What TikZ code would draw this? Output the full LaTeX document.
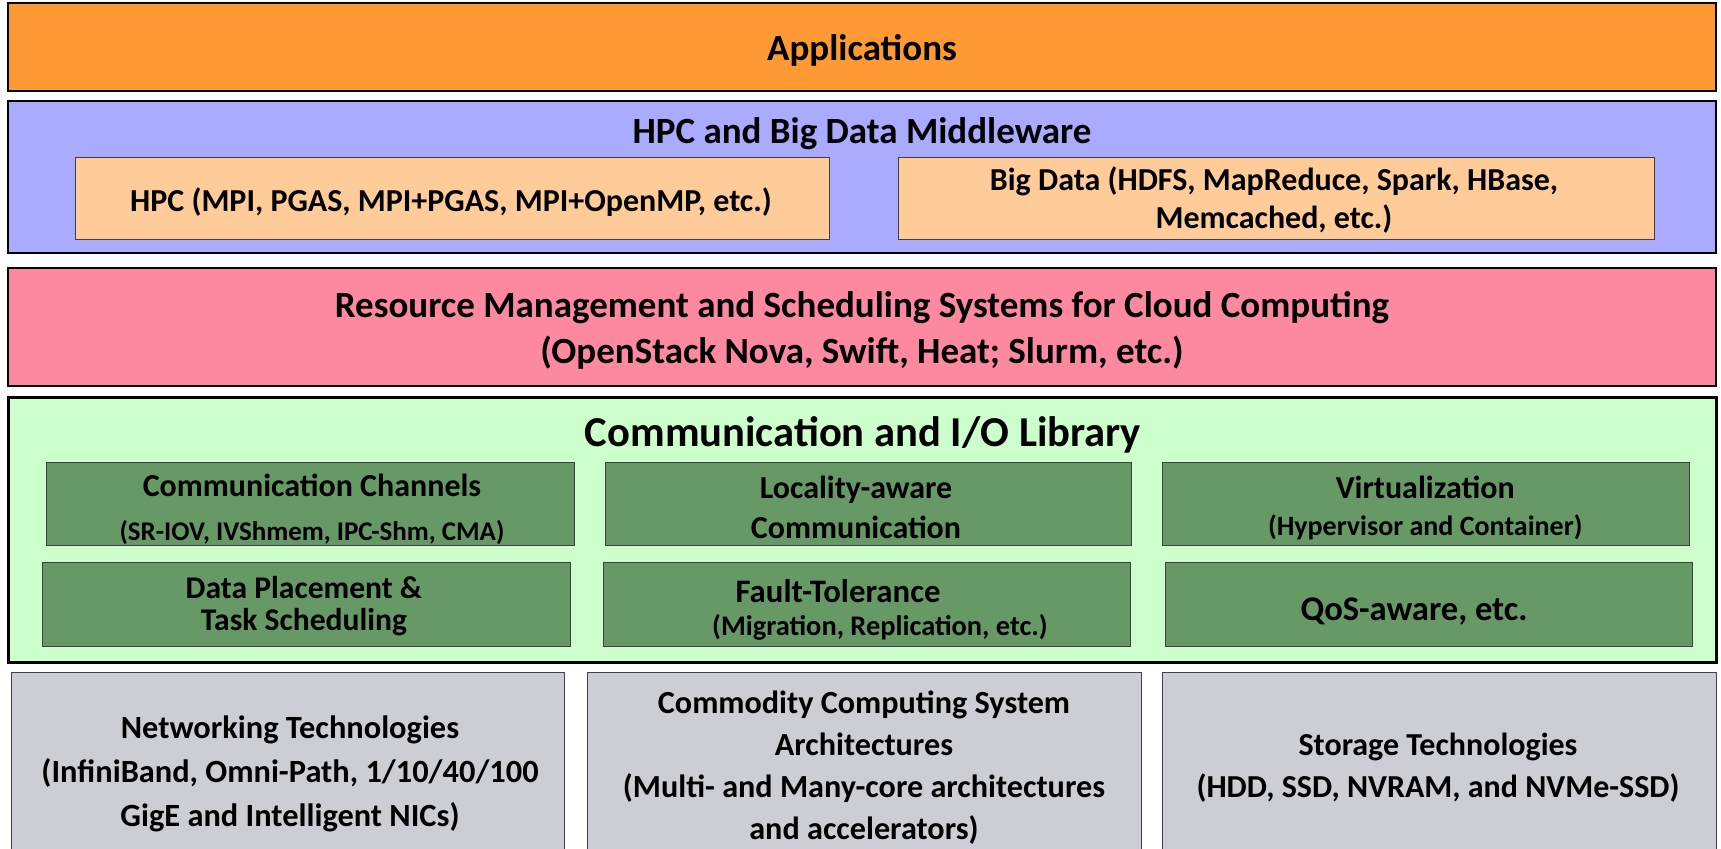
\documentclass[tikz,border=0pt]{standalone}
\usepackage{fontspec}
\setmainfont{Carlito}
\newcommand{\fsz}[2]{\bfseries\fontsize{#1}{#2}\selectfont}
\tikzset{
  layerbox/.style={draw=black,line width=1pt},
  subbox/.style={draw=black!75,line width=0.5pt},
  label/.style={inner sep=0pt,outer sep=0pt,align=center,anchor=center}
}
\begin{document}
\begin{tikzpicture}[x=1pt,y=1pt]
\definecolor{appColor}{RGB}{255,153,51}
\definecolor{midColor}{RGB}{170,170,255}
\definecolor{hpcColor}{RGB}{255,204,153}
\definecolor{resColor}{RGB}{253,137,160}
\definecolor{commColor}{RGB}{204,255,204}
\definecolor{libColor}{RGB}{102,153,102}
\definecolor{techColor}{RGB}{205,205,213}
\path[use as bounding box,fill=white] (0,0) rectangle (860.5,424.5);
\begin{scope}
\path[clip] (0,0) rectangle (860.5,424.5);

\path[layerbox,fill=appColor] (4,379) rectangle (858,423);
\path[layerbox,fill=midColor] (4,298) rectangle (858,374);
\path[subbox,fill=hpcColor] (37.5,304.5) rectangle (414.5,345.5);
\path[subbox,fill=hpcColor] (449,304.5) rectangle (827,345.5);
\path[layerbox,fill=resColor] (4,231.5) rectangle (858,290.5);
\path[layerbox,line width=1.5pt,fill=commColor] (4,93) rectangle (858,225.5);

\path[subbox,fill=libColor] ( 23.0,151.5) rectangle (287.0,193.0);
\path[subbox,fill=libColor] (302.5,151.5) rectangle (565.5,193.0);
\path[subbox,fill=libColor] (581.0,151.5) rectangle (844.5,193.0);
\path[subbox,fill=libColor] ( 21.0,101.0) rectangle (285.0,143.0);
\path[subbox,fill=libColor] (301.5,101.0) rectangle (565.0,143.0);
\path[subbox,fill=libColor] (582.5,101.0) rectangle (846.0,143.0);

\path[subbox,fill=techColor] (  5.5,-12) rectangle (282.0,88);
\path[subbox,fill=techColor] (293.5,-12) rectangle (570.5,88);
\path[subbox,fill=techColor] (581.0,-12) rectangle (858.0,88);
\end{scope}
\begin{scope}
\path[clip] (0,0) rectangle (860.5,424.5);

\node[label,font=\fsz{18.5}{23}] (apps) at (431,399.5) {Applications};
\node[label,font=\fsz{18.5}{23}] (middleware) at (431,357.5) {HPC and Big Data Middleware};
\node[label,font=\fsz{16}{18.7}] (hpc) at (225.5,323.5) {HPC (MPI, PGAS, MPI+PGAS, MPI+OpenMP, etc.)};
\node[label,font=\fsz{16}{18.7}] (bigData) at (637,324.5) {Big Data (HDFS, MapReduce, Spark, HBase,\\Memcached, etc.)};
\node[label,font=\fsz{18.5}{23}] (resource) at (431,259.3) {Resource Management and Scheduling Systems for Cloud Computing\\(OpenStack Nova, Swift, Heat; Slurm, etc.)};
\node[label,font=\fsz{21.3}{25}] (comm) at (431.5,207.2) {Communication and I/O Library};

\node[label,font=\fsz{16}{22}] (channels) at (156,169.9) {Communication Channels\\{\fsz{13.5}{22}(SR-IOV, IVShmem, IPC-Shm, CMA)}};
\node[label,font=\fsz{16}{20.3}] (locality) at (428,170.7) {Locality-aware\\Communication};
\node[label,font=\fsz{16}{18.7}] (virt) at (712.6,170.4) {Virtualization\\{\fsz{14}{18.7}(Hypervisor and Container)}};
\node[label,font=\fsz{15.8}{16}] (placement) at (152,121.3) {Data Placement \&\\Task Scheduling};
\node[label,font=\fsz{16.4}{16.5}] (fault) at (440,119.4) {Fault-Tolerance\hspace*{42pt}\\{\fsz{14.2}{16.5}(Migration, Replication, etc.)}};
\node[label,font=\fsz{17.3}{20}] (qos) at (707,118.8) {QoS-aware, etc.};

\node[label,font=\fsz{16.2}{22}] (network) at (145,37.6) {Networking Technologies\\(InfiniBand, Omni-Path, 1/10/40/100\\GigE and Intelligent NICs)};
\node[label,font=\fsz{16.1}{21}] (arch) at (432,40.5) {Commodity Computing System\\Architectures\\(Multi- and Many-core architectures\\and accelerators)};
\node[label,font=\fsz{16}{21.4}] (storage) at (719,40.6) {Storage Technologies\\(HDD, SSD, NVRAM, and NVMe-SSD)};
\end{scope}
\end{tikzpicture}
\end{document}
